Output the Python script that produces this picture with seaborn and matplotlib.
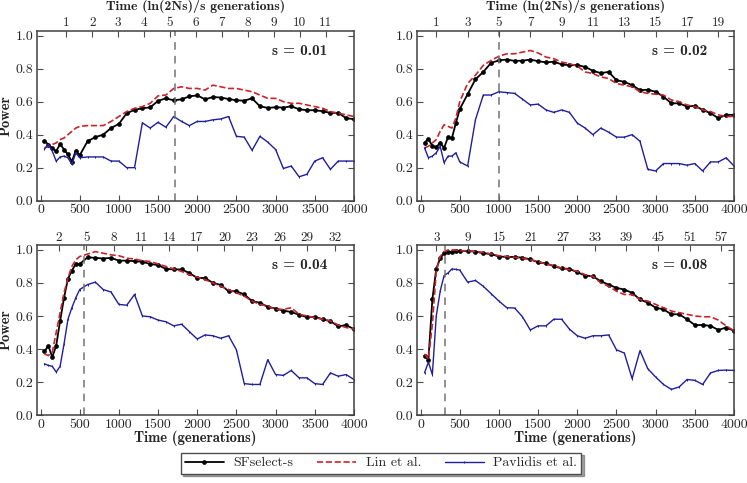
import numpy as np
import pandas as pd
import seaborn as sns
import matplotlib
matplotlib.use("Agg")
import matplotlib.pyplot as plt

# generations at which power was measured
gens = [50, 100, 150, 200, 250, 300, 350, 400, 450, 500,
        600, 700, 800, 900, 1000, 1100, 1200, 1300, 1400, 1500,
        1600, 1700, 1800, 1900, 2000, 2100, 2200, 2300, 2400, 2500,
        2600, 2700, 2800, 2900, 3000, 3100, 3200, 3300, 3400, 3500,
        3600, 3700, 3800, 3900, 4000]

# s = 0.01
sf_001 = [0.363, 0.34, 0.317, 0.30, 0.343, 0.31, 0.28, 0.237, 0.303, 0.275,
          0.36, 0.385, 0.40, 0.44, 0.465, 0.53, 0.55, 0.56, 0.565, 0.605,
          0.62, 0.608, 0.614, 0.632, 0.638, 0.614, 0.628, 0.625, 0.616, 0.608,
          0.606, 0.62, 0.572, 0.562, 0.566, 0.564, 0.572, 0.554, 0.548, 0.548,
          0.542, 0.532, 0.532, 0.50, 0.494]
lin_001 = [0.32, 0.33, 0.34, 0.35, 0.37, 0.38, 0.40, 0.42, 0.44, 0.45,
           0.455, 0.455, 0.455, 0.48, 0.51, 0.54, 0.56, 0.57, 0.59, 0.635,
           0.64, 0.68, 0.69, 0.68, 0.68, 0.67, 0.70, 0.69, 0.68, 0.68,
           0.67, 0.66, 0.64, 0.62, 0.62, 0.60, 0.59, 0.59, 0.58, 0.57,
           0.56, 0.54, 0.53, 0.52, 0.51]
pav_001 = [0.313, 0.34, 0.30, 0.239, 0.265, 0.27, 0.26, 0.22, 0.29, 0.26,
           0.265, 0.265, 0.265, 0.24, 0.24, 0.20, 0.20, 0.472, 0.44, 0.475,
           0.445, 0.51, 0.48, 0.455, 0.48, 0.48, 0.49, 0.495, 0.51, 0.39,
           0.385, 0.305, 0.39, 0.355, 0.31, 0.195, 0.21, 0.145, 0.16, 0.24,
           0.26, 0.19, 0.24, 0.24, 0.24]

# s = 0.02
sf_002 = [0.351, 0.375, 0.33, 0.325, 0.35, 0.32, 0.385, 0.38, 0.47, 0.555,
          0.645, 0.735, 0.78, 0.835, 0.85, 0.855, 0.847, 0.848, 0.855, 0.845,
          0.838, 0.842, 0.826, 0.82, 0.822, 0.81, 0.787, 0.773, 0.78, 0.73,
          0.72, 0.70, 0.67, 0.672, 0.66, 0.63, 0.59, 0.59, 0.57, 0.575,
          0.55, 0.53, 0.50, 0.52, 0.52]
lin_002 = [0.32, 0.33, 0.35, 0.37, 0.42, 0.46, 0.45, 0.44, 0.50, 0.60,
           0.71, 0.76, 0.82, 0.85, 0.875, 0.89, 0.89, 0.90, 0.91, 0.895,
           0.87, 0.86, 0.84, 0.83, 0.815, 0.78, 0.77, 0.75, 0.74, 0.71,
           0.70, 0.69, 0.66, 0.65, 0.645, 0.64, 0.61, 0.60, 0.58, 0.57,
           0.55, 0.54, 0.52, 0.51, 0.51]
pav_002 = [0.32, 0.26, 0.27, 0.29, 0.33, 0.23, 0.27, 0.27, 0.29, 0.235,
           0.21, 0.49, 0.64, 0.64, 0.66, 0.655, 0.65, 0.615, 0.58, 0.585,
           0.55, 0.535, 0.55, 0.535, 0.47, 0.44, 0.40, 0.44, 0.415, 0.385,
           0.385, 0.40, 0.36, 0.19, 0.18, 0.225, 0.225, 0.225, 0.215, 0.225,
           0.18, 0.235, 0.235, 0.26, 0.21]

# s = 0.04
sf_004 = [0.385, 0.42, 0.35, 0.42, 0.57, 0.71, 0.825, 0.875, 0.915, 0.915,
          0.955, 0.952, 0.948, 0.952, 0.935, 0.935, 0.932, 0.928, 0.915, 0.908,
          0.885, 0.882, 0.882, 0.86, 0.83, 0.83, 0.80, 0.788, 0.75, 0.75,
          0.73, 0.69, 0.68, 0.655, 0.645, 0.632, 0.624, 0.607, 0.593, 0.595,
          0.58, 0.568, 0.537, 0.545, 0.52]
lin_004 = [0.37, 0.36, 0.38, 0.50, 0.62, 0.74, 0.83, 0.90, 0.94, 0.96,
           0.975, 0.99, 0.98, 0.97, 0.965, 0.95, 0.945, 0.935, 0.93, 0.915,
           0.90, 0.885, 0.87, 0.85, 0.835, 0.82, 0.80, 0.78, 0.76, 0.74,
           0.72, 0.69, 0.67, 0.66, 0.64, 0.64, 0.65, 0.61, 0.60, 0.59,
           0.58, 0.57, 0.545, 0.53, 0.52]
pav_004 = [0.31, 0.30, 0.295, 0.26, 0.295, 0.43, 0.58, 0.65, 0.71, 0.76,
           0.79, 0.805, 0.76, 0.745, 0.67, 0.665, 0.73, 0.60, 0.595, 0.575,
           0.565, 0.54, 0.55, 0.505, 0.46, 0.485, 0.48, 0.465, 0.48, 0.395,
           0.19, 0.185, 0.185, 0.335, 0.245, 0.24, 0.27, 0.225, 0.225, 0.19,
           0.185, 0.255, 0.235, 0.245, 0.215]

# s = 0.08
sf_008 = [0.36, 0.335, 0.70, 0.885, 0.95, 0.98, 0.985, 0.99, 0.995, 0.995,
          0.993, 0.99, 0.98, 0.975, 0.96, 0.958, 0.957, 0.953, 0.943, 0.925,
          0.918, 0.902, 0.888, 0.885, 0.865, 0.845, 0.84, 0.81, 0.79, 0.77,
          0.76, 0.74, 0.70, 0.68, 0.65, 0.64, 0.61, 0.61, 0.58, 0.545,
          0.545, 0.54, 0.515, 0.53, 0.51]
lin_008 = [0.37, 0.34, 0.55, 0.87, 0.96, 0.99, 1.0, 1.0, 1.0, 0.995,
           0.995, 0.99, 0.985, 0.975, 0.965, 0.96, 0.955, 0.95, 0.94, 0.93,
           0.915, 0.905, 0.89, 0.88, 0.87, 0.85, 0.84, 0.80, 0.78, 0.75,
           0.73, 0.73, 0.70, 0.69, 0.67, 0.65, 0.63, 0.62, 0.61, 0.60,
           0.595, 0.595, 0.575, 0.54, 0.51]
pav_008 = [0.255, 0.32, 0.245, 0.60, 0.75, 0.845, 0.86, 0.885, 0.882, 0.878,
           0.805, 0.815, 0.78, 0.735, 0.69, 0.65, 0.648, 0.595, 0.515, 0.54,
           0.54, 0.58, 0.58, 0.52, 0.48, 0.465, 0.48, 0.48, 0.485, 0.395,
           0.375, 0.22, 0.39, 0.28, 0.23, 0.185, 0.155, 0.17, 0.215, 0.21,
           0.185, 0.255, 0.27, 0.272, 0.27]

s_values = [0.01, 0.02, 0.04, 0.08]
vline_gens = [1710, 1000, 550, 310]
top_labels = [list(range(1, 12)), list(range(1, 20, 2)),
              list(range(2, 33, 3)), list(range(3, 58, 6))]
pop_size = 1365

sns.set_style("ticks", {"xtick.direction": "in", "ytick.direction": "in"})
plt.rcParams['font.family'] = ['cmr10', 'DejaVu Serif']
plt.rcParams['axes.unicode_minus'] = False
plt.rcParams['axes.formatter.use_mathtext'] = False

fig = plt.figure(figsize=(7.47, 4.83), dpi=100)

positions = [[0.049, 0.5845, 0.4248, 0.352],
             [0.5578, 0.5845, 0.4248, 0.352],
             [0.049, 0.1408, 0.4248, 0.352],
             [0.5578, 0.1408, 0.4248, 0.352]]

series = [(sf_001, lin_001, pav_001), (sf_002, lin_002, pav_002),
          (sf_004, lin_004, pav_004), (sf_008, lin_008, pav_008)]

bold = ['cmb10', 'DejaVu Serif']
handles = None
for i, (s, (sf, lin, pav)) in enumerate(zip(s_values, series)):
    ax = fig.add_axes(positions[i])
    df = pd.DataFrame({"gen": gens, "sf": sf, "lin": lin, "pav": pav})

    sns.lineplot(data=df, x="gen", y="sf", ax=ax, color="black", lw=1.3,
                 marker="o", markersize=2.8, markeredgewidth=0.5,
                 markeredgecolor="black", label="SFselect-s")
    sns.lineplot(data=df, x="gen", y="lin", ax=ax, color="#c8242b", lw=1.2,
                 linestyle="--", label="Lin et al.")
    sns.lineplot(data=df, x="gen", y="pav", ax=ax, color="#1f1f9e", lw=1.0,
                 marker="|", markersize=2, markeredgecolor="#1f1f9e",
                 label="Pavlidis et al.")
    ax.axvline(vline_gens[i], color="0.45", ls="--", lw=1.1, dashes=(5, 4))

    if handles is None:
        handles, labels = ax.get_legend_handles_labels()
    ax.get_legend().remove()

    ax.set_xlim(-50, 4000)
    ax.set_ylim(0, 1.03)
    ax.set_xticks(range(0, 4001, 500))
    ax.set_yticks(np.arange(0, 1.01, 0.2))
    ax.set_yticklabels([f"{v:.1f}" for v in np.arange(0, 1.01, 0.2)])
    ax.tick_params(axis="both", labelsize=10, length=4, width=0.8,
                   right=True, top=False, color="0.3", pad=2.5)
    for sp in ax.spines.values():
        sp.set_linewidth(1.1)
        sp.set_color("0.25")

    ax.set_xlabel("Time (generations)" if i >= 2 else "", fontsize=10.5,
                  family=bold, labelpad=0)
    ax.set_ylabel("Power" if i % 2 == 0 else "", fontsize=10.5, family=bold,
                  labelpad=2)
    ax.text(0.915, 0.88, f"s = {s}", transform=ax.transAxes, ha="right",
            va="center", fontsize=11, family=bold)

    # top axis in units of ln(2Ns)/s generations
    unit = np.log(2 * pop_size * s) / s
    ax2 = ax.twiny()
    ax2.set_xlim(ax.get_xlim())
    ax2.set_xticks([k * unit for k in top_labels[i]])
    ax2.set_xticklabels([str(k) for k in top_labels[i]])
    ax2.tick_params(axis="x", labelsize=9.5, length=4, width=0.8,
                    direction="in", pad=1, color="0.3")
    for sp in ax2.spines.values():
        sp.set_visible(False)
    if i < 2:
        x0, _, w, _ = positions[i]
        fig.text(x0 + w / 2, 0.999, "Time (ln(2Ns)/s generations)",
                 ha="center", va="top", fontsize=10, family=bold)

leg = fig.legend(handles, labels, loc="lower center", ncol=3,
                 bbox_to_anchor=(0.51, 0.005), fontsize=10, frameon=True,
                 fancybox=False, shadow=True, handlelength=2.8,
                 handletextpad=0.7, columnspacing=1.7, borderpad=0.3)
leg.get_frame().set_edgecolor("0.3")
leg.get_frame().set_linewidth(1.0)

fig.savefig("out.png", dpi=100)
